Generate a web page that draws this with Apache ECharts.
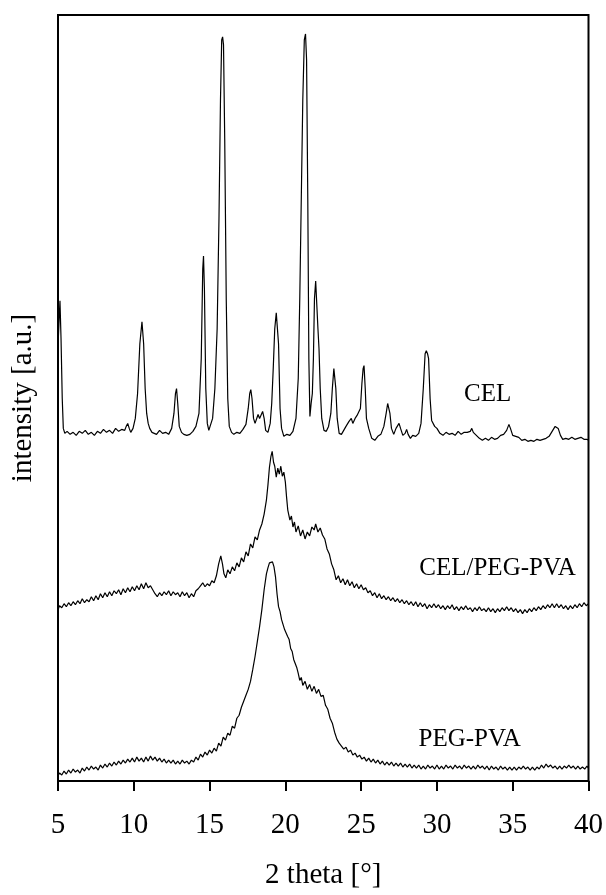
<!DOCTYPE html>
<html>
<head>
<meta charset="utf-8">
<script src="https://cdn.jsdelivr.net/npm/echarts@6/dist/echarts.min.js"></script>
<style>html,body{margin:0;padding:0;background:#fff;}#chart{width:606px;height:895px;}</style>
</head>
<body>
<div id="chart"></div>
<script>
// x-axis ticks (2 theta, degrees)
const xTicks = [5, 10, 15, 20, 25, 30, 35, 40];
const seriesNames = ['CEL', 'CEL/PEG-PVA', 'PEG-PVA'];
// label anchor positions in data units [2theta, intensity]
const labelAnchors = [[33.35, 388], [34.0, 213], [32.16, 42]];

// CEL (stacked offset, arbitrary units)
const celData = [
[5.02,444],[5.13,482],[5.2,444],[5.28,384],[5.35,354],[5.45,349],
[5.6,351],[5.8,348],[6.0,350],[6.2,347],[6.4,351],[6.6,349],[6.8,352],[7.0,348],[7.2,350],[7.4,347],[7.6,351],[7.8,349],[8.0,353],[8.2,350],[8.4,352],[8.6,349],[8.8,354],[9.0,351],[9.2,353],[9.4,352],[9.5,356],[9.6,359],[9.7,354],[9.8,350],[9.95,354],
[10.1,364],[10.25,389],[10.4,439],[10.54,461],[10.65,439],[10.75,394],[10.85,369],[10.95,359],[11.05,354],[11.2,350],[11.3,351],[11.5,348],[11.7,352],[11.9,349],[12.1,350],[12.3,348],[12.5,354],
[12.65,369],[12.75,389],[12.82,394],[12.9,379],[13.0,356],[13.15,350],[13.3,348],[13.5,347],[13.7,348],[13.9,351],[14.1,356],[14.3,369],[14.45,424],[14.55,514],[14.6,527],[14.66,494],[14.75,394],[14.85,359],[14.95,352],
[15.05,353],[15.2,364],[15.35,394],[15.5,454],[15.62,564],[15.72,684],[15.8,744],[15.86,747],[15.92,739],[16.0,644],[16.1,484],[16.2,384],[16.3,356],[16.45,350],[16.6,348],[16.8,350],[17.0,349],[17.2,353],[17.4,358],
[17.55,374],[17.65,389],[17.72,393],[17.8,384],[17.9,364],[18.0,359],[18.1,361],[18.2,368],[18.3,364],[18.4,366],[18.5,371],[18.6,364],[18.7,352],[18.85,350],[19.0,359],[19.1,379],[19.2,414],[19.3,454],[19.4,470],[19.47,468],[19.55,439],[19.65,374],[19.75,354],[19.9,346],
[20.1,348],[20.3,347],[20.5,351],[20.7,364],[20.85,404],[20.95,484],[21.05,584],[21.15,684],[21.25,744],[21.33,750],[21.4,724],[21.48,584],[21.55,424],[21.62,366],[21.7,379],[21.78,389],[21.85,424],[21.92,484],[22.0,502],[22.08,500],[22.15,454],[22.22,434],[22.3,394],[22.4,364],[22.55,352],[22.7,351],[22.85,356],
[23.0,369],[23.1,394],[23.2,414],[23.26,415],[23.33,394],[23.42,364],[23.55,349],[23.7,348],[23.85,352],[24.0,356],[24.2,361],[24.35,364],[24.45,359],[24.6,364],[24.73,367],[24.85,366],[24.95,374],[25.05,399],[25.13,414],[25.19,417],[25.27,394],[25.35,364],[25.5,354],[25.7,344],[25.9,342],
[26.1,346],[26.3,348],[26.5,356],[26.65,369],[26.75,379],[26.82,381],[26.9,369],[27.0,354],[27.15,348],[27.3,354],[27.5,359],[27.6,354],[27.75,347],[27.9,349],[28.0,353],[28.1,348],[28.25,344],[28.4,347],[28.6,346],[28.8,349],[28.95,359],
[29.1,394],[29.22,429],[29.3,432],[29.38,429],[29.45,424],[29.55,384],[29.65,362],[29.75,360],[29.85,356],[30.0,354],[30.2,349],[30.4,347],[30.6,350],[30.8,348],[31.0,349],[31.2,347],[31.4,351],[31.6,348],[31.8,350],[32.0,350],[32.2,351],[32.3,354],[32.4,350],[32.6,347],[32.8,344],
[33.0,342],[33.2,344],[33.4,342],[33.6,345],[33.8,343],[34.0,344],[34.2,347],[34.4,348],[34.6,352],[34.75,358],[34.85,354],[35.0,347],[35.2,346],[35.4,345],[35.6,342],[35.8,343],[36.0,341],[36.2,342],[36.4,341],[36.6,343],[36.8,342],[37.0,343],[37.2,344],[37.4,346],[37.6,351],[37.8,356],[37.9,357],[38.0,354],[38.15,347],[38.3,343],[38.5,344],[38.7,343],[38.9,345],[39.1,343],[39.3,344],[39.5,345],[39.7,343],[39.9,343],[40.0,342]
];

// CEL/PEG-PVA
const celPegPvaData = [
[5.0,172],[5.1,176],[5.25,174],[5.4,178],[5.55,175],[5.7,179],[5.85,176],[6.0,180],[6.15,177],[6.3,181],[6.45,178],[6.6,183],[6.75,179],[6.9,182],[7.05,180],[7.2,185],[7.35,181],[7.5,186],[7.65,182],[7.8,188],[7.95,184],[8.1,189],[8.25,185],[8.4,190],[8.55,186],[8.7,191],[8.85,188],[9.0,192],[9.15,187],[9.3,193],[9.45,189],[9.6,194],[9.75,190],[9.9,195],
[10.05,191],[10.2,196],[10.35,192],[10.5,198],[10.65,193],[10.8,199],[10.95,194],[11.1,196],[11.25,192],[11.4,188],[11.55,185],[11.7,189],[11.85,186],[12.0,190],[12.15,187],[12.3,191],[12.45,186],[12.6,190],[12.75,187],[12.9,189],[13.05,185],[13.2,190],[13.35,186],[13.5,189],[13.65,184],[13.8,188],[13.95,185],
[14.1,191],[14.25,193],[14.4,196],[14.55,199],[14.7,195],[14.85,198],[15.0,196],[15.15,201],[15.3,199],[15.45,206],[15.6,218],[15.74,226],[15.85,218],[15.95,208],[16.07,204],[16.2,212],[16.35,208],[16.5,215],[16.65,211],[16.8,219],[16.95,215],[17.1,224],[17.25,220],[17.4,230],[17.55,226],[17.7,238],[17.85,234],
[18.0,245],[18.15,242],[18.3,252],[18.45,258],[18.6,268],[18.75,282],[18.85,297],[18.95,315],[19.05,326],[19.13,331],[19.22,320],[19.3,316],[19.4,305],[19.5,314],[19.6,308],[19.7,316],[19.8,306],[19.9,310],[20.0,300],[20.08,285],[20.16,272],[20.3,262],[20.4,266],[20.5,255],[20.6,260],[20.7,250],[20.85,256],
[21.0,246],[21.15,252],[21.3,243],[21.45,250],[21.6,246],[21.75,255],[21.9,252],[22.0,258],[22.15,250],[22.3,254],[22.45,247],[22.6,243],[22.75,233],[22.9,228],[23.05,218],[23.2,212],[23.35,202],[23.5,206],[23.65,199],[23.8,203],[23.95,197],[24.1,202],[24.25,196],[24.4,200],[24.55,194],[24.7,198],[24.85,193],
[25.0,197],[25.15,192],[25.3,194],[25.45,189],[25.6,191],[25.75,186],[25.9,189],[26.05,184],[26.2,188],[26.35,183],[26.5,186],[26.65,182],[26.8,185],[26.95,181],[27.1,184],[27.25,180],[27.4,183],[27.55,179],[27.7,182],[27.85,178],[28.0,181],[28.15,177],[28.3,180],[28.45,176],[28.6,180],[28.75,175],[28.9,179],
[29.05,175],[29.2,178],[29.35,173],[29.5,177],[29.65,174],[29.8,178],[29.95,174],[30.1,177],[30.25,173],[30.4,176],[30.55,172],[30.7,176],[30.85,173],[31.0,177],[31.15,172],[31.3,175],[31.45,171],[31.6,175],[31.75,172],[31.9,176],[32.05,172],[32.2,174],[32.35,170],[32.5,174],[32.65,171],[32.8,175],[32.95,171],
[33.1,173],[33.25,170],[33.4,174],[33.55,170],[33.7,173],[33.85,169],[34.0,173],[34.15,170],[34.3,174],[34.45,171],[34.6,175],[34.75,171],[34.9,174],[35.05,170],[35.2,173],[35.35,169],[35.5,172],[35.65,168],[35.8,172],[35.95,169],[36.1,173],[36.25,170],[36.4,174],[36.55,171],[36.7,175],[36.85,172],
[37.0,176],[37.15,173],[37.3,177],[37.45,174],[37.6,178],[37.75,174],[37.9,178],[38.05,174],[38.2,177],[38.35,173],[38.5,176],[38.65,172],[38.8,176],[38.95,173],[39.1,177],[39.25,174],[39.4,178],[39.55,175],[39.7,179],[39.85,176],[40.0,178]
];

// PEG-PVA
const pegPvaData = [
[5.0,5],[5.1,8],[5.25,6],[5.4,10],[5.55,7],[5.7,11],[5.85,8],[6.0,12],[6.15,9],[6.3,11],[6.45,8],[6.6,13],[6.75,10],[6.9,14],[7.05,11],[7.2,15],[7.35,12],[7.5,14],[7.65,11],[7.8,16],[7.95,13],[8.1,17],[8.25,14],[8.4,18],[8.55,15],[8.7,19],[8.85,16],[9.0,20],[9.15,17],[9.3,21],[9.45,18],[9.6,22],[9.75,19],[9.9,23],
[10.05,19],[10.2,24],[10.35,20],[10.5,23],[10.65,19],[10.8,24],[10.95,20],[11.1,25],[11.25,21],[11.4,24],[11.55,20],[11.7,23],[11.85,19],[12.0,22],[12.15,18],[12.3,21],[12.45,18],[12.6,21],[12.75,17],[12.9,20],[13.05,17],[13.2,21],[13.35,18],[13.5,20],[13.65,17],[13.8,21],[13.95,19],
[14.1,24],[14.25,21],[14.4,27],[14.55,24],[14.7,29],[14.85,26],[15.0,31],[15.15,28],[15.3,33],[15.45,30],[15.6,38],[15.75,35],[15.9,44],[16.05,41],[16.2,48],[16.35,46],[16.5,55],[16.65,53],[16.8,63],[16.95,66],[17.1,74],[17.25,80],[17.4,86],[17.55,92],[17.7,100],[17.85,112],
[18.0,125],[18.15,140],[18.3,155],[18.45,172],[18.6,192],[18.75,208],[18.85,214],[18.95,219],[19.05,218],[19.15,220],[19.25,215],[19.35,205],[19.45,188],[19.55,175],[19.65,170],[19.75,162],[19.85,160],[19.95,152],[20.05,153],[20.15,145],[20.25,142],[20.35,133],[20.45,130],[20.55,122],[20.65,124],[20.75,114],[20.85,108],[20.95,101],
[21.05,104],[21.15,96],[21.3,100],[21.45,92],[21.6,97],[21.75,90],[21.9,95],[22.05,88],[22.2,92],[22.35,85],[22.5,86],[22.65,76],[22.8,72],[22.95,63],[23.1,58],[23.25,49],[23.4,42],[23.55,38],[23.7,35],[23.85,32],[24.0,34],[24.15,29],[24.3,31],[24.45,26],[24.6,28],[24.75,24],[24.9,26],
[25.05,22],[25.2,24],[25.35,20],[25.5,23],[25.65,19],[25.8,22],[25.95,18],[26.1,21],[26.25,17],[26.4,20],[26.55,16],[26.7,19],[26.85,16],[27.0,19],[27.15,15],[27.3,18],[27.45,15],[27.6,18],[27.75,14],[27.9,17],[28.05,14],[28.2,17],[28.35,13],[28.5,16],[28.65,13],[28.8,16],[28.95,12],
[29.1,15],[29.25,12],[29.4,16],[29.55,13],[29.7,15],[29.85,12],[30.0,16],[30.15,12],[30.3,15],[30.45,12],[30.6,16],[30.75,13],[30.9,15],[31.05,12],[31.2,16],[31.35,13],[31.5,15],[31.65,12],[31.8,16],[31.95,13],[32.1,15],[32.25,12],[32.4,15],[32.55,12],[32.7,16],[32.85,13],
[33.0,15],[33.15,12],[33.3,15],[33.45,11],[33.6,15],[33.75,12],[33.9,14],[34.05,11],[34.2,15],[34.35,12],[34.5,14],[34.65,11],[34.8,14],[34.95,11],[35.1,14],[35.25,11],[35.4,14],[35.55,12],[35.7,15],[35.85,12],[36.0,14],[36.15,11],[36.3,14],[36.45,11],[36.6,14],[36.75,12],
[36.9,16],[37.05,13],[37.2,17],[37.35,14],[37.5,16],[37.65,13],[37.8,15],[37.95,12],[38.1,15],[38.25,12],[38.4,15],[38.55,13],[38.7,16],[38.85,13],[39.0,15],[39.15,12],[39.3,15],[39.45,12],[39.6,14],[39.75,12],[39.9,15],[40.0,13]
];

const FONT = '"Liberation Serif", "Times New Roman", serif';
const allData = [celData, celPegPvaData, pegPvaData];

const chart = echarts.init(document.getElementById('chart'), null, {renderer: 'canvas'});
const series = allData.map((d, i) => ({
  name: seriesNames[i],
  type: 'line',
  data: d,
  showSymbol: false,
  symbol: 'none',
  lineStyle: {color: '#000', width: 1.2},
  animation: false,
  silent: true,
  markPoint: {
    symbol: 'circle',
    symbolSize: 0,
    silent: true,
    data: [{coord: labelAnchors[i]}],
    label: {
      show: true,
      position: 'inside',
      formatter: seriesNames[i],
      fontFamily: FONT,
      fontSize: 25,
      color: '#000'
    }
  }
}));

chart.setOption({
  backgroundColor: '#fff',
  animation: false,
  grid: {left: 58, right: 17, top: 15, bottom: 111, show: true, borderColor: '#000', borderWidth: 2, backgroundColor: 'transparent'},
  xAxis: {
    type: 'value', min: xTicks[0], max: xTicks[xTicks.length - 1], interval: 5,
    name: '2 theta [°]', nameLocation: 'middle', nameGap: 80,
    nameTextStyle: {fontFamily: FONT, fontSize: 29, color: '#000'},
    axisLine: {show: true, onZero: false, lineStyle: {color: '#000', width: 2}},
    axisTick: {show: true, inside: false, length: 10, lineStyle: {color: '#000', width: 2}},
    axisLabel: {show: true, margin: 30, fontFamily: FONT, fontSize: 29, color: '#000'},
    splitLine: {show: false}
  },
  yAxis: {
    type: 'value', min: 0, max: 769,
    name: 'intensity [a.u.]', nameLocation: 'middle', nameGap: 20, nameRotate: 90,
    nameTextStyle: {fontFamily: FONT, fontSize: 29, color: '#000'},
    axisLine: {show: true, lineStyle: {color: '#000', width: 2}},
    axisTick: {show: false},
    axisLabel: {show: false},
    splitLine: {show: false}
  },
  series: series
});
</script>
</body>
</html>
